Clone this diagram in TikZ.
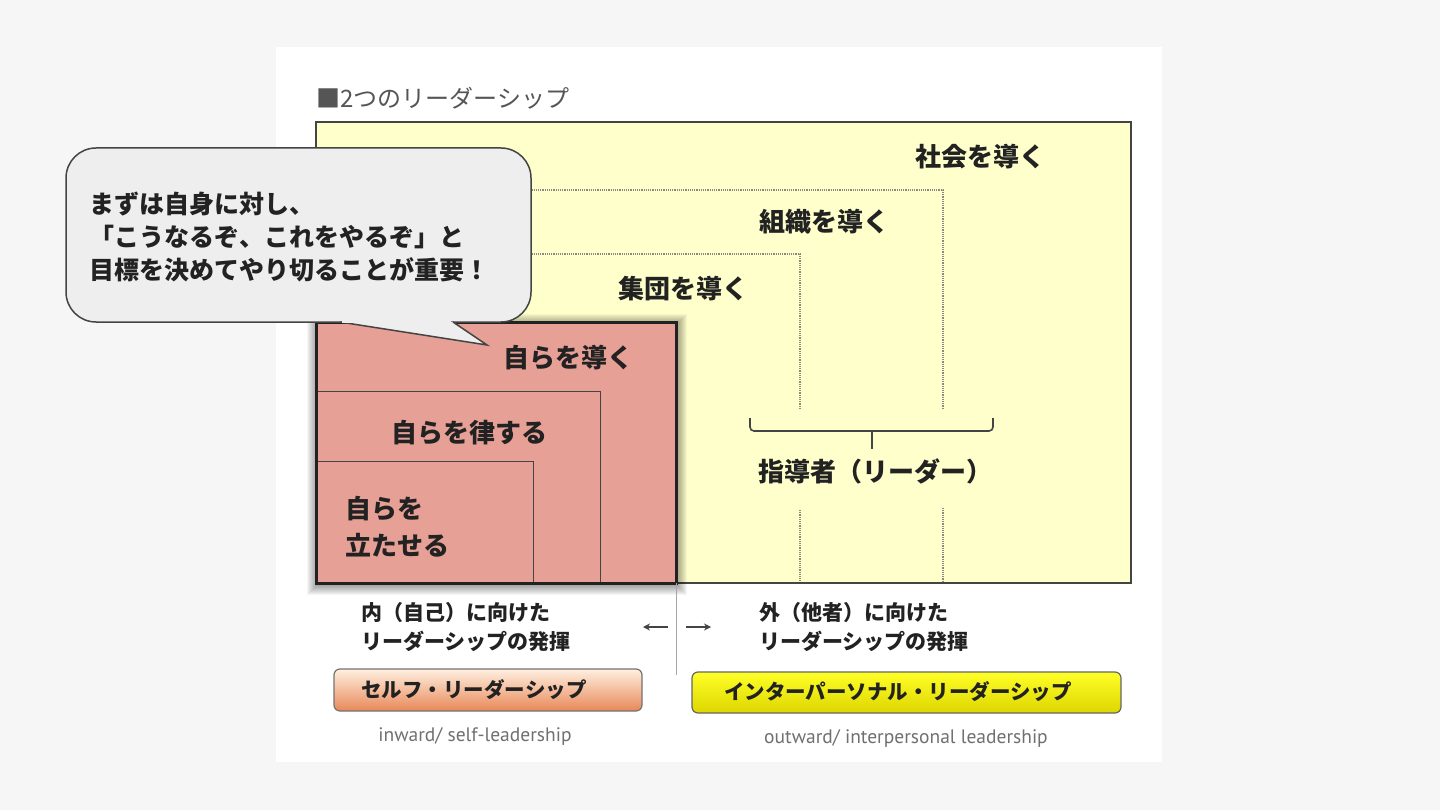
\documentclass[tikz,border=0pt]{standalone}
\usepackage{fontspec}
\setmainfont{Noto Sans CJK JP}
\newfontfamily\capfont{PT Sans}
\usetikzlibrary{arrows.meta}
\definecolor{bgc}{HTML}{F6F6F6}
\definecolor{yelc}{HTML}{FFFFCC}
\definecolor{redc}{HTML}{E6A096}
\definecolor{bubc}{HTML}{EEEEEE}
\definecolor{edgec}{HTML}{444444}
\definecolor{txtc}{HTML}{222222}
\definecolor{titlec}{HTML}{555555}
\definecolor{capc}{HTML}{707070}
\definecolor{dotc}{HTML}{8A8A80}
\tikzset{
  lbl/.style={font=\fontsize{26}{37}\selectfont\bfseries, text=txtc, inner sep=0pt},
  btxt/.style={font=\fontsize{21}{29}\selectfont\bfseries, text=txtc, inner sep=0pt, align=left, anchor=west},
  boxtxt/.style={font=\fontsize{20.5}{24}\selectfont\bfseries, text=txtc, inner sep=0pt},
  captxt/.style={font=\capfont\fontsize{19.5}{22}\selectfont, text=capc, inner sep=0pt},
  dotline/.style={dotc, densely dotted, line width=1.2pt},
  bracketline/.style={edgec, line width=1.6pt},
  arr/.style={-{Stealth[length=7pt,width=7pt]}, line width=1.1pt, edgec},
}
\begin{document}
\begin{tikzpicture}[x=1pt,y=-1pt]
\useasboundingbox (0,0) rectangle (1440,810);
\fill[bgc] (0,0) rectangle (1440,810);
\fill[white] (276,47) rectangle (1162,762);

% title
\node[anchor=west, text=titlec, font=\fontsize{24}{24}\selectfont, inner sep=0pt] (title) at (316,98) {■2つのリーダーシップ};

% society box
\draw[fill=yelc, draw=edgec, line width=2pt] (316,122) rectangle (1131,583);

% dotted nested areas
\draw[dotline] (318,190) -- (943,190) -- (943,408);
\draw[dotline] (318,254) -- (800,254) -- (800,408);
\draw[dotline] (800,510) -- (800,581);
\draw[dotline] (943,508) -- (943,581);

% labels
\node[lbl] (shakai) at (980,157) {社会を導く};
\node[lbl] (soshiki) at (824,222) {組織を導く};
\node[lbl] (shudan) at (683,289) {集団を導く};

% bracket
\draw[bracketline, rounded corners=4pt] (750,418) -- (750,431) -- (993,431) -- (993,418);
\draw[bracketline] (872,431) -- (872,449);
\node[lbl] (leader) at (875,471) {指導者（リーダー）};

% self box with glow shadow
\foreach \i in {1,...,10} {
  \fill[black, opacity=0.04] (316-\i+1,322-\i+2) rectangle (676+\i+1,583+\i+2);
}
\fill[redc] (316,322) rectangle (676,583);
\draw[edgec, line width=0.9pt] (316,391) -| (600,583);
\draw[edgec, line width=0.9pt] (316,461) -| (533,583);
\draw[txtc, line width=3pt] (316,322) rectangle (676,583);
\node[lbl] (jiko1) at (568,358) {自らを導く};
\node[lbl] (jiko2) at (469,433) {自らを律する};
\node[lbl, anchor=west, align=left] (jiko3) at (345,527) {自らを\\立たせる};

% speech bubble
\draw[fill=bubc, draw=edgec, line width=1.5pt, rounded corners=30pt] (66,148) rectangle (531,322);
\filldraw[fill=bubc, draw=edgec, line width=1.5pt, line join=miter] (340,322) -- (487,345) -- (453,322);
\fill[bubc] (342,319.5) rectangle (451,322.6);
\node[font=\fontsize{25}{33}\selectfont\bfseries, text=txtc, inner sep=0pt, align=left, anchor=west] (bubbletext) at (89,237) {まずは自身に対し、\\「こうなるぞ、これをやるぞ」と\\目標を決めてやり切ることが重要！};

% bottom part
\draw[black!35, line width=0.9pt] (676,583) -- (676,675);
\coordinate (la) at (668,627);
\coordinate (lb) at (643,627);
\coordinate (ra) at (686,627);
\coordinate (rb) at (711,627);
\draw[arr] (la) -- (lb);
\draw[arr] (ra) -- (rb);
\node[btxt] (inner) at (361,627) {内（自己）に向けた\\リーダーシップの発揮};
\node[btxt] (outer) at (759,627) {外（他者）に向けた\\リーダーシップの発揮};

\draw[draw=black!55, line width=1.2pt, rounded corners=6pt, top color=orange!12!white, bottom color={rgb,255:red,232;green,136;blue,88}] (334,669) rectangle (642,711);
\node[boxtxt] (selfl) at (474,690) {セルフ・リーダーシップ};
\draw[draw=black!60, line width=1.2pt, rounded corners=6pt, top color={rgb,255:red,255;green,255;blue,40}, bottom color={rgb,255:red,222;green,214;blue,0}] (692,672) rectangle (1121,713);
\node[boxtxt] (interl) at (898,692) {インターパーソナル・リーダーシップ};

\node[captxt] (capin) at (475,737) {inward/ self-leadership};
\node[captxt] (capout) at (906,739) {outward/ interpersonal leadership};
\end{tikzpicture}
\end{document}
